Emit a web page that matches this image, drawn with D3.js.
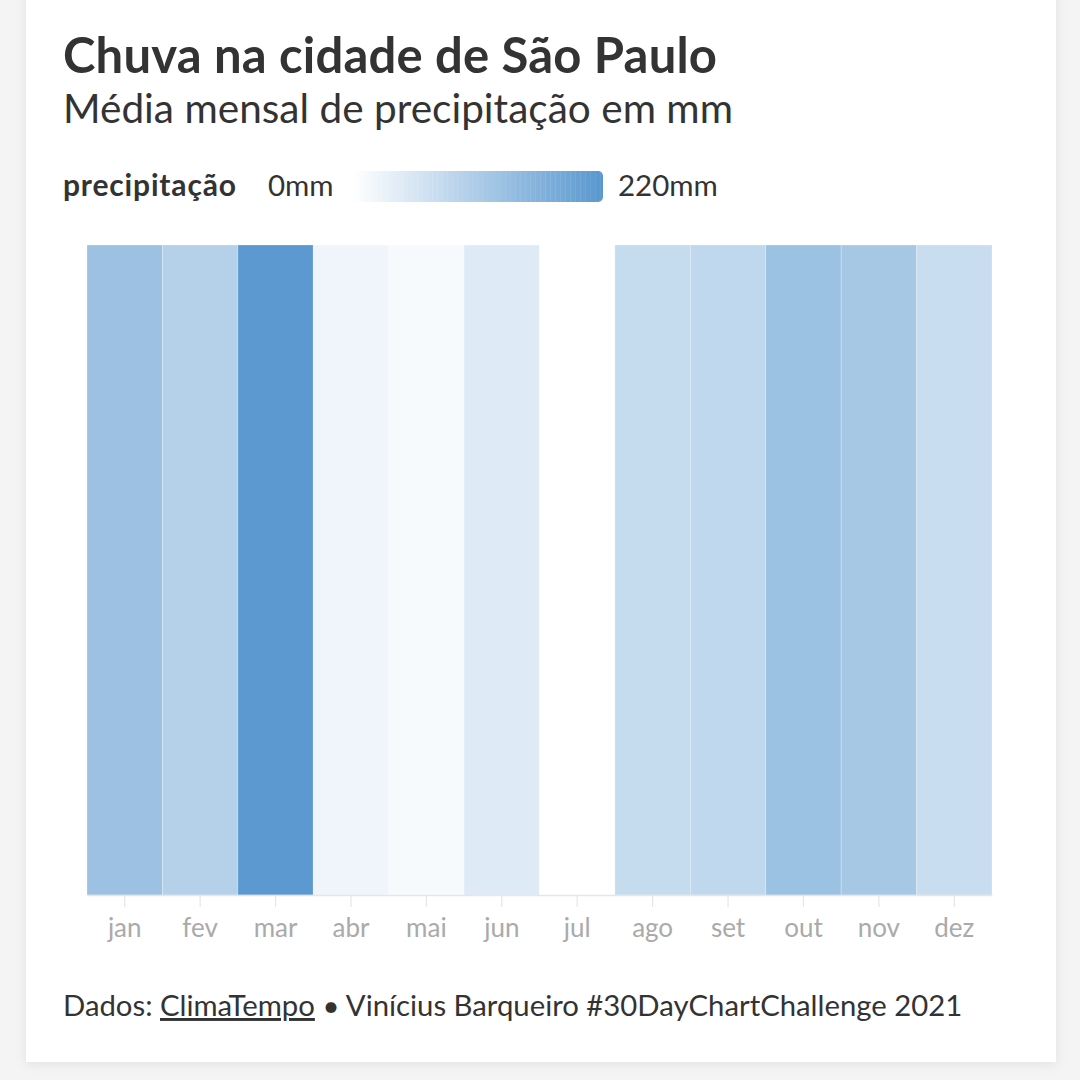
<!DOCTYPE html>
<html><head><meta charset="utf-8">
<script src="https://cdn.jsdelivr.net/npm/d3@7"></script>
<style>
html,body{margin:0;padding:0;background:#f4f4f4;}
svg{display:block;}
text{font-family:Lato,"Source Sans Pro","Noto Sans",sans-serif;}
</style></head>
<body>
<svg id="c" width="1080" height="1080"></svg>
<script>
const months = ["jan","fev","mar","abr","mai","jun","jul","ago","set","out","nov","dez"];
const rain = [131, 97, 215, 21, 10, 43, 0, 76, 83, 130, 117, 72];
const legendDomain = [0, 220];
const legendLabels = ["0mm", "220mm"];

const svg = d3.select("#c");
const defs = svg.append("defs");
const f = defs.append("filter").attr("id","sh").attr("x","-5%").attr("y","-5%").attr("width","110%").attr("height","110%");
f.append("feDropShadow").attr("dx",0).attr("dy",2).attr("stdDeviation",6).attr("flood-color","#000").attr("flood-opacity",0.08);

svg.append("rect").attr("x",0).attr("y",0).attr("width",1080).attr("height",1080).attr("fill","#f4f4f4");
svg.append("rect").attr("x",26).attr("y",-10).attr("width",1030).attr("height",1072).attr("fill","#fff").attr("filter","url(#sh)");

const color = d3.scaleLinear().domain(legendDomain).range(["#ffffff","#5897cf"]).clamp(true);

svg.append("text").attr("x",63).attr("y",73).attr("font-size",49).attr("font-weight",700).attr("fill","#333")
  .attr("textLength",654).attr("lengthAdjust","spacing").text("Chuva na cidade de São Paulo");
svg.append("text").attr("x",63).attr("y",123).attr("font-size",40.5).attr("fill","#333")
  .attr("textLength",670).attr("lengthAdjust","spacing").text("Média mensal de precipitação em mm");

// legend
svg.append("text").attr("x",63).attr("y",196).attr("font-size",30).attr("font-weight",700).attr("fill","#333")
  .attr("textLength",173).attr("lengthAdjust","spacing").text("precipitação");
svg.append("text").attr("x",268).attr("y",196).attr("font-size",29.5).attr("fill","#333").text(legendLabels[0]);
svg.append("text").attr("x",618).attr("y",196).attr("font-size",29.5).attr("fill","#333").text(legendLabels[1]);
const lx = d3.scaleLinear().domain(legendDomain).range([352,603]);
defs.append("clipPath").attr("id","lc").append("rect").attr("x",352).attr("y",171).attr("width",251).attr("height",31).attr("rx",5);
const stops = d3.range(0, 220, 2.2);
svg.append("g").attr("clip-path","url(#lc)").selectAll("rect").data(stops).join("rect")
  .attr("x", d => lx(d)).attr("y",171).attr("width", lx(2.2)-lx(0)+0.4).attr("height",31)
  .attr("fill", d => color(d));

// chart
const x = d3.scaleBand().domain(months).range([87,992]).padding(0);
const y0 = 245, y1 = 895;
svg.append("g").selectAll("rect").data(months).join("rect")
  .attr("x", d => x(d)).attr("y", y0).attr("width", x.bandwidth()).attr("height", y1-y0)
  .attr("fill", (d,i) => color(rain[i]))
  .attr("stroke","#ffffff").attr("stroke-opacity",0.3).attr("stroke-width",0.8);

const ax = svg.append("g").attr("transform",`translate(0,${y1})`)
  .call(d3.axisBottom(x).tickSizeInner(12).tickSizeOuter(0).tickPadding(12));
ax.select(".domain").attr("stroke","#e6e6e6").attr("stroke-width",1.5);
ax.selectAll(".tick line").attr("stroke","#e6e6e6").attr("stroke-width",1.2);
ax.selectAll(".tick text").attr("font-size",26).attr("fill","#aaaaaa").attr("font-family","Lato,sans-serif");

// footer
const ft = svg.append("text").attr("x",63).attr("y",1016).attr("font-size",29.3).attr("fill","#333");
ft.append("tspan").text("Dados: ");
ft.append("tspan").attr("text-decoration","underline").text("ClimaTempo");
ft.append("tspan").text(" • Vinícius Barqueiro #30DayChartChallenge 2021");
</script>
</body></html>
